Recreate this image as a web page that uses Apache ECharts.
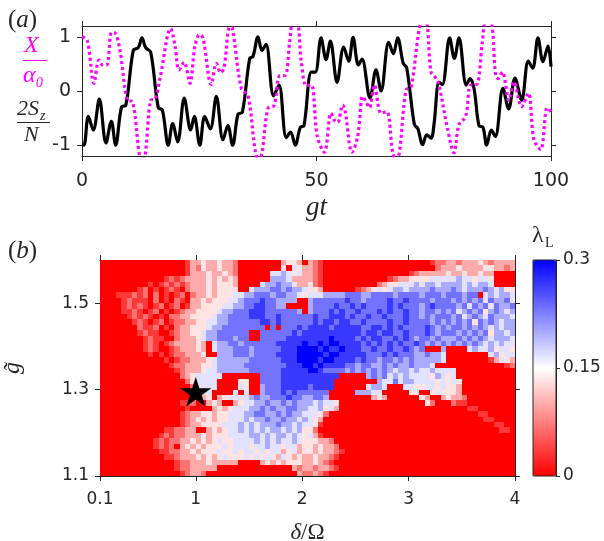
<!DOCTYPE html>
<html>
<head>
<meta charset="utf-8">
<style>html,body{margin:0;padding:0;background:#fff}#c{width:604px;height:541px}</style>
<script src="https://cdn.jsdelivr.net/npm/echarts@6/dist/echarts.min.js"></script>
</head>
<body>
<div id="c"></div>
<script>
// Panel (a): as [gt, value]
const spinPoints = [[0,-1],[0.42,-1],[1.35,-.47],[2.41,-.72],[3.69,-.15],[5.11,-.96],[6.25,-.56],[7.17,-1],[8.45,-.29],[9.31,-.27],[10.94,.75],[12,.8],[12.79,.98],[13.57,.8],[14.64,.72],[16.27,-.31],[17.13,-.35],[18.4,-1],[19.33,-.6],[20.4,-.94],[21.8,-.13],[23.17,-.72],[23.95,-.47],[25.12,-1],[26.15,-.47],[27.36,-.7],[28.64,-.1],[30.06,-.9],[31.1,-.64],[32.12,-1],[33.26,-.43],[34.2,-.39],[35.75,.6],[36.46,.64],[37.52,1],[38.37,.75],[39.23,.86],[40.86,-.09],[42,.11],[43.56,-.86],[44.49,-.76],[45.48,-1],[46.55,-.67],[47.33,-.64],[48.9,.35],[49.75,.35],[50.97,.98],[52.03,.58],[52.96,.92],[54.38,.16],[55.8,.81],[56.87,.55],[57.79,.99],[58.93,.48],[59.7,.59],[61.41,-.13],[62.69,.39],[63.76,0],[65.4,.9],[66.39,.69],[67.3,.98],[68.5,.51],[69.23,.43],[70.87,-.62],[71.58,-.69],[72.64,-.99],[73.5,-.81],[74.42,-.87],[75.05,-.62],[76.12,.16],[76.83,.12],[78.39,.98],[79.39,.6],[80.38,.98],[81.94,.11],[82.73,.23],[83.58,.05],[84.64,-.64],[85.5,-.67],[86.28,-1],[87.27,-.72],[88.13,-.84],[89.76,.05],[90.97,-.33],[92.32,.24],[93.74,-.17],[95.16,.55],[96.09,.42],[97.22,.98],[98.29,.54],[99.36,.83],[100,.45]];
const fieldPoints = [[0,1],[1.13,.93],[2.55,.14],[3.62,.57],[4.4,.48],[5.26,.48],[6.32,1.08],[7.03,1.07],[8.1,.75],[9.66,-.17],[10.8,-.2],[12.22,-1.17],[12.86,-1.3],[13.5,-1.17],[14.64,-.17],[15.56,-.15],[16.63,.23],[18.9,1.15],[19.83,.84],[20.68,.39],[21.75,.53],[23.02,.14],[24.09,.84],[25.08,1.04],[25.8,.98],[27.57,.12],[28.64,.51],[29.56,.34],[30.27,.42],[31.48,1.18],[32.05,1.16],[33.97,.05],[35.4,-.09],[36.95,-1.11],[37.74,-1.3],[38.38,-1.14],[39.66,-.32],[40.93,-.27],[42.14,.28],[43.35,.29],[44.28,.91],[45,1.27],[45.84,1.27],[46.76,.54],[47.83,.1],[48.9,.11],[50.17,-.84],[51.68,-1.13],[53.1,-.41],[53.81,-.54],[54.52,-.58],[55.59,-.26],[56.08,-.35],[57.58,-1.13],[58.78,-.84],[59.85,-.1],[60.56,-.2],[61.27,-.31],[62.34,.11],[63.76,-.41],[64.97,-.38],[66.25,-1.14],[66.96,-1.28],[67.67,-1.14],[69.09,.02],[70.16,.07],[71.79,1.09],[72.5,1.27],[73.35,1.27],[74.42,.35],[75.4,.24],[76.12,.11],[77.9,-.68],[79.31,-1.14],[80.38,-.62],[81.8,-.47],[82.87,.11],[84.15,.12],[85.36,.9],[86.07,1.27],[87.13,1.27],[88.2,.29],[88.7,.23],[89.62,.35],[91.04,-.17],[92.1,.17],[93.74,-.29],[95.16,-.04],[96.37,-.9],[97.8,-1.08],[99.2,-.31],[100,-.38]];
const timeTicks = [0, 50, 100];
const amplitudeTicks = [-1, 0, 1];

// Panel (b): levels, one string per row from the top; 0 = red, 4-5 = white, 9 = blue
const heatRows = [
"0000000000000 0001334334332 0000000034430 3210000000000 0000000000122 3323334323333",
"0000000000000 0001324334332 0000000040543 3210000000000 0000000000023 3343333443323",
"0000000000000 0001333433432 0000005565453 3210000000000 0000001233333 4334334330000",
"0000000000001 2123333434343 0000006665333 3210000000000 0012334444555 5565545540000",
"0000000001012 1212333434443 0000566766533 4210000000000 2344555656656 6665656650000",
"0000000120101 2102333434444 0056667767665 4430000001234 5456656666766 6765666765644",
"0001112120201 0120233434445 5667776776654 5556666777667 7776777767776 7776770565665",
"0000121110201 0210334344455 6777877666600 6777777877677 7787787777677 7676767576675",
"0000121210120 1201334444556 6778877660000 6777787787877 7787877767877 7767576757667",
"0000112101201 0123344445667 7788877777760 6777878778777 8787787767767 6756767467656",
"0000012121010 2233444456677 7788877877777 7877888787787 7877787767677 7675676576665",
"0000001210120 1223344556677 7777887877777 7878878877877 7787787777676 7676747676566",
"0000000211201 0233444566777 7777707077787 8888788888778 8787877778767 6776767656566",
"0000000121100 1233445667777 7700777777878 8888888888788 7887787778767 7767676746656",
"0000000012110 0233345667776 7700777778888 8888988887878 8778787677676 6676767656665",
"0000000012101 2333343056677 6777777888889 8898998888787 8787877876767 6767676565655",
"0000000012100 1233343056667 7767777788899 9989889888778 7787787670006 0000565564554",
"0000000001010 1223334006667 7767777888899 9998998888877 7878777667665 0000000056455",
"0000000000001 0122333456666 6677777788899 9989988887877 6776767666665 0000000013543",
"0000000000000 1223334456666 6777777778889 9898888776776 6767667666500 0000000000012",
"0000000000000 0123334556666 6677777788888 9987777676767 6765665655655 5500000000000",
"0000000000000 0023455555000 0000777788888 8888880000067 6756565555465 4500000000000",
"0000000000000 0002455550000 4400777788888 8888800000000 6557566555545 4540000000000",
"0000000000000 0000245550000 5400677788888 7888800000056 6500055445545 4430000000000",
"0000000000000 0000024500005 0500677787877 7777000006665 5000004400454 4430000000000",
"0000000000000 0000013403455 5567667778776 6776000000003 4300000043003 4332000000000",
"0000000000000 0011200343003 4556676676766 6565540000000 0000000004200 0211000000000",
"0000000000000 0001000034345 5566767667766 5564530000000 0000000000000 0000110000000",
"0000000000000 0012334434455 5667766767665 5542000000000 0000000000000 0000001100000",
"0000000000000 0012343434455 5656676676656 5430000000000 0000000000000 0000000110000",
"0000000000000 0012334444555 6565666766565 5410000000000 0000000000000 0000000001100",
"0000000000001 1223300343455 6565656656564 4200000000000 0000000000000 0000000000110",
"0000000000012 1223334344455 5566565665654 5310000000000 0000000000000 0000000000000",
"0000000000121 2233434345445 5556565655654 4433200000000 0000000000000 0000000000000",
"0000000000121 2034343444545 5545565545534 4343320000000 0000000000000 0000000000000",
"0000000000011 2233434445445 4554545534534 4343321000000 0000000000000 0000000000000",
"0000000000001 1233343434544 4545454354343 3433210000000 0000000000000 0000000000000",
"0000000000000 0122333433333 0000343434443 3432100000000 0000000000000 0000000000000",
"0000000000000 0122333330000 0000000000323 3233210000000 0000000000000 0000000000000",
"0000000000000 0012332000000 0000000000032 2321000000000 0000000000000 0000000000000"
];
const levelValues = [0, .033, .067, .1, .133, .167, .2, .233, .267, .3];
const deltaTicks = [0.1, 1, 2, 3, 4];
const gTicks = [1.1, 1.3, 1.5];
const lambdaTicks = [0, 0.15, 0.3];
const starPoint = [[1, 1.295]];

const ink = '#262626', sans = 'DejaVu Sans', serif = 'Liberation Serif';
const dMin = 0.1, dMax = 4, gMin = 1.1, gMax = 1.6;
const rows = heatRows.map(r => r.replace(/ /g, ''));
const nCols = rows[0].length, nRows = rows.length;
const dStep = (dMax - dMin) / nCols, gStep = (gMax - gMin) / nRows;
const heatData = [];
rows.forEach((r, j) => {
  for (let i = 0; i < nCols; i++) {
    heatData.push([dMin + (i + .5) * dStep, gMax - (j + .5) * gStep, levelValues[+r[i]]]);
  }
});

const tick = {show: true, inside: false, length: 5, lineStyle: {color: ink, width: 1}};
const line = {show: true, onZero: false, lineStyle: {color: ink, width: 1}};
function ax(o) {
  return Object.assign({type: 'value', splitLine: {show: false}, axisLine: line, axisTick: tick,
    axisLabel: {show: false}}, o);
}
const chart = echarts.init(document.getElementById('c'), null, {renderer: 'canvas'});
chart.setOption({
  animation: false,
  backgroundColor: '#fff',
  grid: [
    {left: 82, top: 26, width: 469, height: 130, outerBoundsMode: 'none'},
    {left: 100, top: 260, width: 415, height: 216, outerBoundsMode: 'none'},
    {left: 533, top: 260, width: 23, height: 216, outerBoundsMode: 'none'}
  ],
  xAxis: [
    ax({gridIndex: 0, min: 0, max: 100, position: 'bottom',
      axisTick: Object.assign({}, tick, {customValues: timeTicks}),
      axisLabel: {show: true, customValues: timeTicks, margin: 16, color: ink, fontFamily: sans, fontSize: 19},
      name: 'gt', nameLocation: 'middle', nameGap: 38,
      nameTextStyle: {fontFamily: serif, fontStyle: 'italic', fontSize: 27, color: ink}}),
    ax({gridIndex: 0, min: 0, max: 100, position: 'top', axisTick: Object.assign({}, tick, {customValues: timeTicks})}),
    ax({gridIndex: 1, min: dMin, max: dMax, position: 'bottom',
      axisTick: Object.assign({}, tick, {customValues: deltaTicks}),
      axisLabel: {show: true, customValues: deltaTicks, margin: 15, color: ink, fontFamily: sans, fontSize: 17},
      name: '{i|δ}{r|/Ω}', nameLocation: 'middle', nameGap: 45,
      nameTextStyle: {rich: {
        i: {fontFamily: serif, fontStyle: 'italic', fontSize: 23, color: ink},
        r: {fontFamily: serif, fontSize: 23, color: ink}}}}),
    ax({gridIndex: 1, min: dMin, max: dMax, position: 'top', axisTick: Object.assign({}, tick, {customValues: deltaTicks})}),
    ax({gridIndex: 2, min: 0, max: 1, show: false})
  ],
  yAxis: [
    ax({gridIndex: 0, min: -1.2, max: 1.2, position: 'left',
      axisTick: Object.assign({}, tick, {customValues: amplitudeTicks}),
      axisLabel: {show: true, customValues: amplitudeTicks, margin: 11, padding: [5, 0, 0, 0], color: ink, fontFamily: sans, fontSize: 19}}),
    ax({gridIndex: 0, min: -1.2, max: 1.2, position: 'right', axisTick: Object.assign({}, tick, {customValues: amplitudeTicks})}),
    ax({gridIndex: 1, min: gMin, max: gMax, position: 'left',
      axisTick: Object.assign({}, tick, {customValues: gTicks}),
      axisLabel: {show: true, customValues: gTicks, margin: 11, padding: [3, 0, 0, 0], color: ink, fontFamily: sans, fontSize: 17},
      name: 'g̃', nameLocation: 'middle', nameGap: 75, nameRotate: 90,
      nameTextStyle: {fontFamily: serif, fontStyle: 'italic', fontSize: 24, color: ink}}),
    ax({gridIndex: 1, min: gMin, max: gMax, position: 'right', axisTick: Object.assign({}, tick, {customValues: gTicks})}),
    ax({gridIndex: 2, min: 0, max: 0.3, position: 'right',
      axisTick: Object.assign({}, tick, {customValues: lambdaTicks, length: 4}),
      axisLabel: {show: true, customValues: lambdaTicks, margin: 7, padding: [5, 0, 0, 0], color: ink, fontFamily: sans, fontSize: 17}})
  ],
  visualMap: {
    type: 'continuous', min: 0, max: 0.3, dimension: 2, seriesIndex: 2,
    left: 533, top: 260, itemWidth: 23, itemHeight: 216, padding: 0, itemGap: 0,
    calculable: false, showLabel: false, text: null, hoverLink: false,
    inRange: {color: ['#ff0000', '#ffffff', '#0000ff']}
  },
  series: [
    {type: 'line', xAxisIndex: 0, yAxisIndex: 0, data: spinPoints, showSymbol: false, smooth: 0.35,
      lineStyle: {color: '#000', width: 3.2}, z: 3},
    {type: 'line', xAxisIndex: 0, yAxisIndex: 0, data: fieldPoints, showSymbol: false, smooth: 0.35,
      lineStyle: {color: '#ff00ff', width: 3.2, type: [3, 3]}, z: 4},
    {type: 'custom', xAxisIndex: 2, yAxisIndex: 2, data: heatData, encode: {x: 0, y: 1}, z: 2,
      renderItem: function (p, api) {
        const a = api.coord([api.value(0) - dStep / 2, api.value(1) + gStep / 2]);
        const b = api.coord([api.value(0) + dStep / 2, api.value(1) - gStep / 2]);
        const x = Math.round(a[0]), y = Math.round(a[1]);
        return {type: 'rect', shape: {x: x, y: y, width: Math.round(b[0]) - x, height: Math.round(b[1]) - y},
          style: {fill: api.visual('color')}};
      }},
    {type: 'scatter', xAxisIndex: 2, yAxisIndex: 2, data: starPoint, z: 5, symbolSize: 31, symbolKeepAspect: true,
      symbol: 'path://M0,-1 L0.2245,-0.309 L0.951,-0.309 L0.363,0.118 L0.588,0.809 L0,0.382 L-0.588,0.809 L-0.363,0.118 L-0.951,-0.309 L-0.2245,-0.309 Z',
      itemStyle: {color: '#000', opacity: 1}}
  ],
  graphic: [
    {type: 'text', left: 8, top: 8, style: {text: '{r|(}{i|a}{r|)}', rich: {
      r: {fontFamily: serif, fontSize: 25, fill: ink}, i: {fontFamily: serif, fontStyle: 'italic', fontSize: 25, fill: ink}}}},
    {type: 'text', left: 8, top: 239, style: {text: '{r|(}{i|b}{r|)}', rich: {
      r: {fontFamily: serif, fontSize: 25, fill: ink}, i: {fontFamily: serif, fontStyle: 'italic', fontSize: 25, fill: ink}}}},
    {type: 'text', left: 24, top: 34, style: {text: 'X', fontFamily: serif, fontStyle: 'italic', fontSize: 24, fill: '#ff00ff'}},
    {type: 'line', shape: {x1: 23, y1: 60.5, x2: 47, y2: 60.5}, style: {stroke: '#ff00ff', lineWidth: 1}},
    {type: 'text', left: 23, top: 64, style: {text: 'α₀', fontFamily: serif, fontStyle: 'italic', fontSize: 24, fill: '#ff00ff'}},
    {type: 'text', left: 17, top: 98, style: {text: '2S', fontFamily: serif, fontStyle: 'italic', fontSize: 22, fill: ink}},
    {type: 'text', left: 40, top: 109, style: {text: 'z', fontFamily: serif, fontStyle: 'italic', fontSize: 14, fill: ink}},
    {type: 'line', shape: {x1: 17, y1: 122.5, x2: 50, y2: 122.5}, style: {stroke: ink, lineWidth: 1}},
    {type: 'text', left: 24, top: 124, style: {text: 'N', fontFamily: serif, fontStyle: 'italic', fontSize: 22, fill: ink}},
    {type: 'text', left: 532, top: 224, style: {text: 'λ', fontFamily: serif, fontSize: 24, fill: ink}},
    {type: 'text', left: 545, top: 236, style: {text: 'L', fontFamily: serif, fontSize: 14, fill: ink}},
    {type: 'rect', shape: {x: 533, y: 260, width: 23, height: 216}, style: {fill: 'none', stroke: ink, lineWidth: 1}, z: 100}
  ]
});
</script>
</body>
</html>
